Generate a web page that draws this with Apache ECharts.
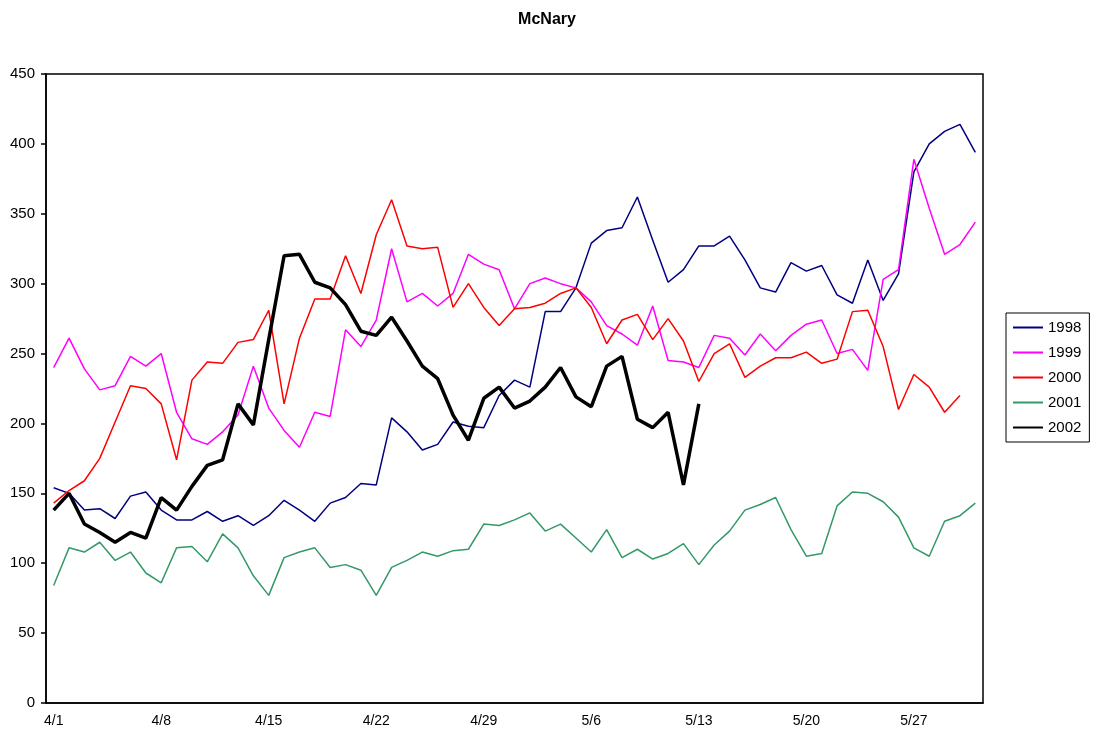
<!DOCTYPE html>
<html lang="en">
<head>
    <meta charset="UTF-8">
    <title>McNary</title>
    <script src="https://cdn.jsdelivr.net/npm/echarts@6/dist/echarts.min.js"></script>
    <style>
        html, body {
            margin: 0;
            padding: 0;
            background: #fff;
        }
        #chart {
            width: 1094px;
            height: 740px;
        }
    </style>
</head>
<body>
<div id="chart"></div>
<script>
    // 4/1 .. 5/31
    let days = [
        '4/1', '4/2', '4/3', '4/4', '4/5', '4/6', '4/7', '4/8', '4/9', '4/10',
        '4/11', '4/12', '4/13', '4/14', '4/15', '4/16', '4/17', '4/18', '4/19', '4/20',
        '4/21', '4/22', '4/23', '4/24', '4/25', '4/26', '4/27', '4/28', '4/29', '4/30',
        '5/1', '5/2', '5/3', '5/4', '5/5', '5/6', '5/7', '5/8', '5/9', '5/10',
        '5/11', '5/12', '5/13', '5/14', '5/15', '5/16', '5/17', '5/18', '5/19', '5/20',
        '5/21', '5/22', '5/23', '5/24', '5/25', '5/26', '5/27', '5/28', '5/29', '5/30', '5/31'
    ];

    let y1998 = [154, 150, 138, 139, 132, 148, 151, 138, 131, 131,
        137, 130, 134, 127, 134, 145, 138, 130, 143, 147,
        157, 156, 204, 194, 181, 185, 201, 198, 197, 220,
        231, 226, 280, 280, 297, 329, 338, 340, 362, 331,
        301, 310, 327, 327, 334, 317, 297, 294, 315, 309,
        313, 292, 286, 317, 288, 307, 380, 400, 409, 414, 394];

    let y1999 = [240, 261, 239, 224, 227, 248, 241, 250, 208, 189,
        185, 194, 206, 241, 211, 195, 183, 208, 205, 267,
        255, 274, 325, 287, 293, 284, 293, 321, 314, 310,
        282, 300, 304, 300, 297, 287, 270, 264, 256, 284,
        245, 244, 240, 263, 261, 249, 264, 252, 263, 271,
        274, 250, 253, 238, 303, 310, 389, 354, 321, 328, 344];

    let y2000 = [143, 152, 159, 175, 201, 227, 225, 214, 174, 231,
        244, 243, 258, 260, 281, 214, 261, 289, 289, 320,
        293, 335, 360, 327, 325, 326, 283, 300, 283, 270,
        282, 283, 286, 293, 297, 283, 257, 274, 278, 260,
        275, 259, 230, 250, 257, 233, 241, 247, 247, 251,
        243, 246, 280, 281, 255, 210, 235, 226, 208, 220, null];

    let y2001 = [84, 111, 108, 115, 102, 108, 93, 86, 111, 112,
        101, 121, 111, 91, 77, 104, 108, 111, 97, 99,
        95, 77, 97, 102, 108, 105, 109, 110, 128, 127,
        131, 136, 123, 128, 118, 108, 124, 104, 110, 103,
        107, 114, 99, 113, 123, 138, 142, 147, 124, 105,
        107, 141, 151, 150, 144, 133, 111, 105, 130, 134, 143];

    let y2002 = [138, 150, 128, 122, 115, 122, 118, 147, 138, 155,
        170, 174, 214, 199, 260, 320, 321, 301, 297, 285,
        266, 263, 276, 259, 241, 232, 206, 188, 218, 226,
        211, 216, 226, 240, 219, 212, 241, 248, 203, 197,
        208, 156, 214];

    let seriesNames = ['1998', '1999', '2000', '2001', '2002'];
    let seriesData = [y1998, y1999, y2000, y2001, y2002];
    let colors = ['#000080', '#ff00ff', '#ff0000', '#339966', '#000000'];
    let widths = [1.5, 1.5, 1.5, 1.5, 3.5];

    let font = 'Liberation Sans, Arial, sans-serif';

    let myChart = echarts.init(document.getElementById('chart'));
    let option = {
        animation: false,
        backgroundColor: '#fff',
        title: {
            text: 'McNary',
            left: 'center',
            top: 7,
            textStyle: {
                fontFamily: font,
                fontSize: 16,
                fontWeight: 'bold',
                color: '#000'
            }
        },
        legend: {
            orient: 'vertical',
            left: 1006,
            top: 313,
            padding: [7, 8, 7, 6],
            itemGap: 10,
            itemWidth: 30,
            itemHeight: 14,
            borderColor: '#000',
            borderWidth: 1,
            itemStyle: {opacity: 0},
            textStyle: {
                fontFamily: font,
                fontSize: 15,
                color: '#000'
            },
            data: seriesNames
        },
        grid: {
            left: 46,
            top: 74,
            right: 111,
            bottom: 37,
            show: true,
            borderColor: '#000',
            borderWidth: 1.5,
            containLabel: false
        },
        xAxis: {
            type: 'category',
            data: days,
            boundaryGap: true,
            axisLine: {lineStyle: {color: '#000', width: 1.5}},
            axisTick: {
                interval: 6,
                length: 5,
                lineStyle: {color: '#000', width: 1.5}
            },
            axisLabel: {
                interval: 6,
                margin: 11,
                fontFamily: font,
                fontSize: 14,
                color: '#000'
            },
            splitLine: {show: false}
        },
        yAxis: {
            type: 'value',
            min: 0,
            max: 450,
            interval: 50,
            axisLine: {show: true, lineStyle: {color: '#000', width: 1.5}},
            axisTick: {show: true, length: 5, lineStyle: {color: '#000', width: 1.5}},
            axisLabel: {
                margin: 11,
                fontFamily: font,
                fontSize: 15,
                color: '#000'
            },
            splitLine: {show: false}
        },
        series: seriesNames.map(function (name, i) {
            return {
                name: name,
                type: 'line',
                data: seriesData[i],
                symbol: 'none',
                color: colors[i],
                lineStyle: {color: colors[i], width: widths[i]},
                z: i === 4 ? 5 : 2
            };
        })
    };
    myChart.setOption(option);
</script>
</body>
</html>
